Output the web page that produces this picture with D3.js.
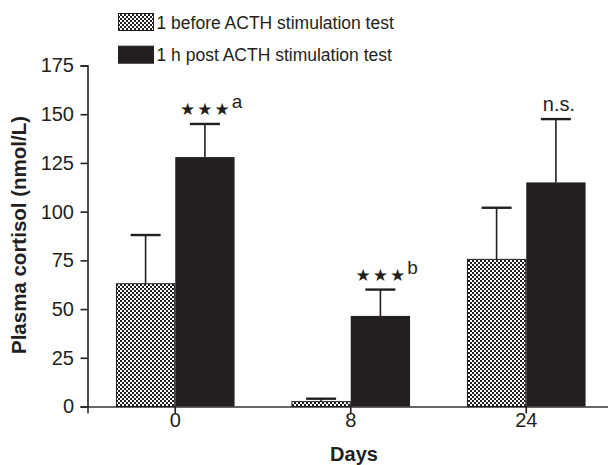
<!DOCTYPE html>
<html>
<head>
<meta charset="utf-8">
<script src="https://cdn.jsdelivr.net/npm/d3@7"></script>
<style>
  body { margin: 0; background: #fff; }
  svg { display: block; font-family: "Liberation Sans", Arial, sans-serif; }
</style>
</head>
<body>
<div id="chart"></div>
<script>
// data
const days = ["0", "8", "24"];
const seriesNames = ["1 before ACTH stimulation test", "1 h post ACTH stimulation test"];
const beforeMean = [63, 2.5, 75.5];
const beforeErr = [88, 4, 102];
const postMean = [128, 46.5, 115];
const postErr = [145, 60, 147.5];
const marks = ["★★★", "★★★", ""];
const markSup = ["a", "b", ""];
const markText = ["", "", "n.s."];
const yTicks = [0, 25, 50, 75, 100, 125, 150, 175];

const ink = "#231f20";

const svg = d3.select("#chart").append("svg")
    .attr("width", 608)
    .attr("height", 465);

// checker pattern for the "before" bars
const defs = svg.append("defs");
const pat = defs.append("pattern")
    .attr("id", "checker")
    .attr("patternUnits", "userSpaceOnUse")
    .attr("width", 4)
    .attr("height", 4);
pat.append("rect").attr("width", 4).attr("height", 4).attr("fill", "#fff");
pat.append("rect").attr("width", 2).attr("height", 2).attr("fill", ink);
pat.append("rect").attr("x", 2).attr("y", 2).attr("width", 2).attr("height", 2).attr("fill", ink);

const x = d3.scaleBand()
    .domain(days)
    .range([87.5, 614])
    .paddingInner(0.324)
    .paddingOuter(0.162);

const xSub = d3.scaleBand()
    .domain([0, 1])
    .range([0, x.bandwidth()]);

const y = d3.scaleLinear()
    .domain([0, 175])
    .range([406.5, 65.5]);

// axes
const xAxis = svg.append("g")
    .attr("transform", "translate(0,406.5)")
    .call(d3.axisBottom(x).tickSizeOuter(0).tickSize(7));
xAxis.select(".domain").attr("stroke", "#333").attr("stroke-width", 1.6);
xAxis.selectAll(".tick line").attr("stroke", ink).attr("stroke-width", 1.6);
xAxis.selectAll(".tick text")
    .attr("fill", ink)
    .attr("font-size", 20)
    .attr("font-family", "Liberation Sans, Arial, sans-serif")
    .attr("y", 6.5);

const yAxis = svg.append("g")
    .attr("transform", "translate(87.5,0)")
    .call(d3.axisLeft(y).tickValues(yTicks).tickSize(7).tickSizeOuter(7));
yAxis.select(".domain").attr("stroke", ink).attr("stroke-width", 1.6);
yAxis.selectAll(".tick line").attr("stroke", ink).attr("stroke-width", 1.6);
yAxis.selectAll(".tick text")
    .attr("fill", ink)
    .attr("font-size", 20)
    .attr("font-family", "Liberation Sans, Arial, sans-serif")
    .attr("x", -13.5);

// error bars (drawn first so the bar covers the stem)
function errorBar(cx, top, mean) {
    svg.append("line")
        .attr("x1", cx).attr("x2", cx)
        .attr("y1", y(top)).attr("y2", y(mean))
        .attr("stroke", ink).attr("stroke-width", 1.6);
    svg.append("line")
        .attr("x1", cx - 15).attr("x2", cx + 15)
        .attr("y1", y(top)).attr("y2", y(top))
        .attr("stroke", ink).attr("stroke-width", 2.4);
}

days.forEach((d, i) => {
    const x0 = x(d) + xSub(0);
    const x1 = x(d) + xSub(1);
    const w = xSub.bandwidth();
    errorBar(x0 + w / 2, beforeErr[i], beforeMean[i]);
    errorBar(x1 + w / 2, postErr[i], postMean[i]);

    svg.append("rect")
        .attr("x", x0 + 0.5).attr("y", y(beforeMean[i]))
        .attr("width", w - 1).attr("height", y(0) - y(beforeMean[i]))
        .attr("fill", "url(#checker)")
        .attr("stroke", ink).attr("stroke-width", 1);

    svg.append("rect")
        .attr("x", x1).attr("y", y(postMean[i]))
        .attr("width", w).attr("height", y(0) - y(postMean[i]))
        .attr("fill", ink);

    // significance labels: stars plus a raised letter
    const cx = x1 + w / 2;
    if (marks[i]) {
        const t = svg.append("text")
            .attr("x", cx - 25)
            .attr("y", y(postErr[i]) - 8.5)
            .attr("font-family", "DejaVu Sans, sans-serif")
            .attr("font-size", 17)
            .attr("letter-spacing", 2)
            .attr("fill", ink)
            .text(marks[i]);
        t.append("tspan")
            .attr("font-family", "Liberation Sans, Arial, sans-serif")
            .attr("font-size", 19)
            .attr("dy", -7)
            .attr("letter-spacing", 0)
            .text(markSup[i]);
    }
    if (markText[i]) {
        svg.append("text")
            .attr("x", cx + 3)
            .attr("y", y(postErr[i]) - 8.5)
            .attr("text-anchor", "middle")
            .attr("font-size", 20)
            .attr("fill", ink)
            .text(markText[i]);
    }
});

// axis titles
svg.append("text")
    .attr("x", 354)
    .attr("y", 461)
    .attr("text-anchor", "middle")
    .attr("font-weight", "bold")
    .attr("font-size", 20)
    .attr("fill", ink)
    .text("Days");

svg.append("text")
    .attr("transform", "translate(26,235) rotate(-90)")
    .attr("text-anchor", "middle")
    .attr("font-weight", "bold")
    .attr("font-size", 20.5)
    .attr("fill", ink)
    .text("Plasma cortisol (nmol/L)");

// legend
const legend = svg.append("g").attr("transform", "translate(118,0)");
seriesNames.forEach((name, i) => {
    const ly = 13.5 + i * 32.7;
    legend.append("rect")
        .attr("x", 0.5).attr("y", ly)
        .attr("width", 35).attr("height", 17)
        .attr("fill", i === 0 ? "url(#checker)" : ink)
        .attr("stroke", ink).attr("stroke-width", 1);
    legend.append("text")
        .attr("x", 38.5)
        .attr("y", ly + 15)
        .attr("font-size", 17.5)
        .attr("fill", ink)
        .text(name);
});
</script>
</body>
</html>
